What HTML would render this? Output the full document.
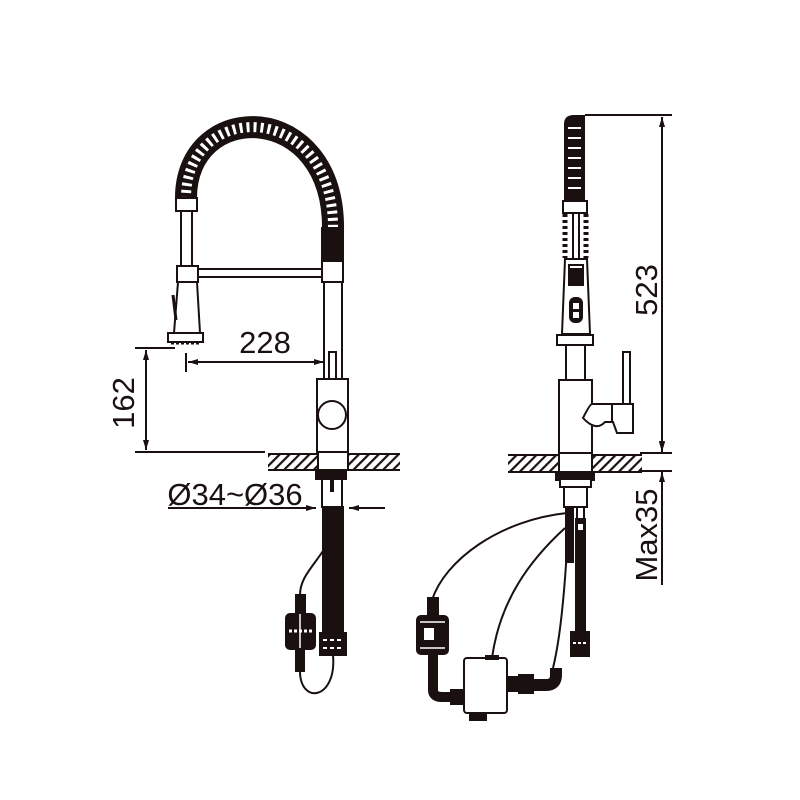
<!DOCTYPE html>
<html><head><meta charset="utf-8"><style>
html,body{margin:0;padding:0;background:#fff;}
svg{display:block;}
text{font-family:"Liberation Sans Narrow","Liberation Sans",sans-serif;fill:#1a1010;}
</style></head><body>
<svg width="800" height="800" viewBox="0 0 800 800" xmlns="http://www.w3.org/2000/svg">
<defs>
<pattern id="h" width="7" height="7" patternUnits="userSpaceOnUse" patternTransform="rotate(45)">
<rect width="7" height="7" fill="#fff"/><rect width="2.2" height="7" fill="#1a1010"/>
</pattern>
<marker id="a" viewBox="0 0 10 6" refX="10" refY="3" markerWidth="10" markerHeight="6" orient="auto-start-reverse" markerUnits="userSpaceOnUse">
<path d="M0,0 L10,3 L0,6 Z" fill="#1a1010"/></marker>
</defs>
<g stroke="#1a1010" fill="none" stroke-width="2">
<!-- LEFT FAUCET -->
<path d="M186,200 C184,98 336,98 333,232" stroke-width="22"/>
<path d="M186,200 C184,98 336,98 333,232" stroke="#fff" stroke-width="10" stroke-dasharray="3 4"/>
<rect x="322" y="228" width="21" height="34" fill="#1a1010"/>
<rect x="176" y="198" width="21" height="13" fill="#fff"/>
<rect x="181" y="211" width="11" height="55" fill="#fff"/>
<rect x="177" y="266" width="21" height="16" fill="#fff"/>
<rect x="198" y="269" width="124" height="8" fill="#fff"/>
<rect x="322" y="261" width="21" height="21" fill="#fff"/>
<rect x="324" y="282" width="18" height="97" fill="#fff"/>
<path d="M178,282 L197,282 L200,333 L174,333 Z" fill="#fff"/>
<path d="M173,295 L176,320" stroke-width="3"/>
<rect x="168" y="333" width="35" height="9" fill="#fff"/>
<path d="M171,343 H199" stroke-width="3" stroke-dasharray="3 2"/>
<rect x="329" y="352" width="7" height="30" fill="#fff"/>
<rect x="317" y="379" width="31" height="73" fill="#fff"/>
<circle cx="332" cy="415" r="14" fill="#fff"/>
<rect x="268" y="454" width="132" height="16" fill="url(#h)" stroke="none"/>
<path d="M268,454 H400 M268,470 H400"/>
<rect x="318" y="452" width="30" height="18" fill="#fff"/>
<rect x="316" y="470" width="30" height="9" fill="#1a1010"/>
<rect x="322" y="479" width="20" height="28" fill="#fff"/>
<path d="M332,480 v12" stroke-width="4"/>
<rect x="323" y="507" width="20" height="126" fill="#1a1010"/>
<rect x="320" y="633" width="26" height="22" fill="#1a1010"/>
<path d="M323,640 h20 M323,648 h20" stroke="#fff" stroke-width="2" stroke-dasharray="4 3"/>
<path d="M325,548 C312,568 300,578 300,595"/>
<rect x="296" y="595" width="9" height="20" fill="#1a1010"/>
<rect x="286" y="614" width="29" height="35" rx="4" fill="#1a1010"/>
<path d="M289,631 h23" stroke="#fff" stroke-width="3" stroke-dasharray="3 2"/>
<path d="M300,614 v35" stroke="#fff" stroke-width="1.5"/>
<rect x="296" y="649" width="8" height="22" fill="#1a1010"/>
<path d="M300,671 C300,705 337,700 333,655"/>
<!-- left dims -->
<path d="M135,348 H175"/>
<path d="M135,452 H265"/>
<path d="M146,350 V450" marker-start="url(#a)" marker-end="url(#a)"/>
<path d="M186,353 V372"/>
<path d="M188,362 H324" marker-start="url(#a)" marker-end="url(#a)"/>
<path d="M168,508 H316" marker-end="url(#a)"/>
<path d="M385,508 H349" marker-end="url(#a)"/>

<!-- RIGHT FAUCET -->
<path d="M565,199 V124 Q565,116 574,116 H584 V199 Z" fill="#1a1010"/>
<path d="M568,128 h13 M568,138 h13 M568,148 h13 M568,158 h13 M568,168 h13 M568,178 h13 M568,188 h13" stroke="#fff" stroke-width="2"/>
<rect x="563" y="201" width="24" height="12" fill="#fff"/>
<path d="M565,214 V258 M586,214 V258" stroke-width="5" stroke-dasharray="3 3"/>
<rect x="573" y="213" width="6" height="46" fill="#fff"/>
<path d="M565,259 H587 L590,334 H562 Z" fill="#fff"/>
<rect x="569" y="265" width="14" height="20" fill="#fff"/>
<rect x="571" y="269" width="10" height="14" fill="#1a1010"/>
<rect x="570" y="298" width="12" height="24" rx="5" fill="#1a1010"/>
<rect x="573" y="303" width="6" height="6" fill="#fff" stroke="none"/>
<rect x="573" y="312" width="6" height="6" fill="#fff" stroke="none"/>
<rect x="557" y="335" width="36" height="10" fill="#fff"/>
<rect x="566" y="345" width="19" height="35" fill="#fff"/>
<rect x="559" y="380" width="33" height="73" fill="#fff"/>
<rect x="623" y="352" width="7" height="54" fill="#fff"/>
<path d="M592,404 H633 V433 H617 L613,422 L605,422 Q596,432 583,418 Q590,404 592,404 Z" fill="#fff"/>
<path d="M612,404 V422"/>
<rect x="508" y="455" width="134" height="17" fill="url(#h)" stroke="none"/>
<path d="M508,455 H642 M508,472 H642"/>
<rect x="559" y="453" width="33" height="19" fill="#fff"/>
<rect x="556" y="472" width="38" height="8" fill="#1a1010"/>
<rect x="560" y="479" width="31" height="8" fill="#fff"/>
<rect x="564" y="487" width="23" height="20" fill="#fff"/>
<rect x="566" y="507" width="7" height="55" fill="#1a1010"/>
<rect x="577" y="507" width="7" height="12" fill="#fff"/>
<rect x="576" y="519" width="9" height="113" fill="#1a1010"/>
<rect x="578" y="524" width="5" height="6" fill="#fff" stroke="none"/>
<rect x="571" y="632" width="18" height="24" fill="#1a1010"/>
<path d="M573,643 h14" stroke="#fff" stroke-width="2" stroke-dasharray="3 2"/>
<path d="M567,513 C500,520 445,560 432,600"/>
<path d="M565,528 C530,560 500,600 492,658"/>
<path d="M568,530 C565,590 560,640 553,668"/>
<rect x="428" y="598" width="10" height="18" fill="#1a1010"/>
<rect x="417" y="616" width="31" height="38" rx="4" fill="#1a1010"/>
<path d="M420,622 h25 M420,648 h25" stroke="#fff" stroke-width="1.5"/>
<rect x="424" y="628" width="10" height="12" fill="#fff" stroke="none"/>
<path d="M433,654 V690 Q433,697 442,697 H463" stroke-width="10"/>
<rect x="451" y="690" width="12" height="14" fill="#1a1010"/>
<rect x="464" y="658" width="43" height="55" rx="3" fill="#fff"/>
<rect x="486" y="656" width="12" height="3" fill="#1a1010"/>
<rect x="470" y="713" width="16" height="7" fill="#1a1010"/>
<rect x="507" y="677" width="10" height="14" fill="#1a1010"/>
<rect x="519" y="675" width="14" height="18" fill="#1a1010"/>
<path d="M533,685 H546 Q556,685 556,675 V668" stroke-width="12"/>
<!-- right dims -->
<path d="M585,115 H672"/>
<path d="M640,453 H672 M640,471 H672"/>
<path d="M662,117 V451" marker-start="url(#a)" marker-end="url(#a)"/>
<path d="M662,440 V452" marker-end="url(#a)"/>
<path d="M662,485 V472" marker-end="url(#a)"/>
<path d="M662,472 V585"/>
</g>
<text x="265" y="353" font-size="31" text-anchor="middle">228</text>
<text transform="translate(134,403) rotate(-90)" font-size="31" text-anchor="middle">162</text>
<text x="235" y="505" font-size="31" text-anchor="middle">Ø34~Ø36</text>
<text transform="translate(657,290) rotate(-90)" font-size="31" text-anchor="middle">523</text>
<text transform="translate(657,535) rotate(-90)" font-size="31" text-anchor="middle">Max35</text>
</svg>
</body></html>
